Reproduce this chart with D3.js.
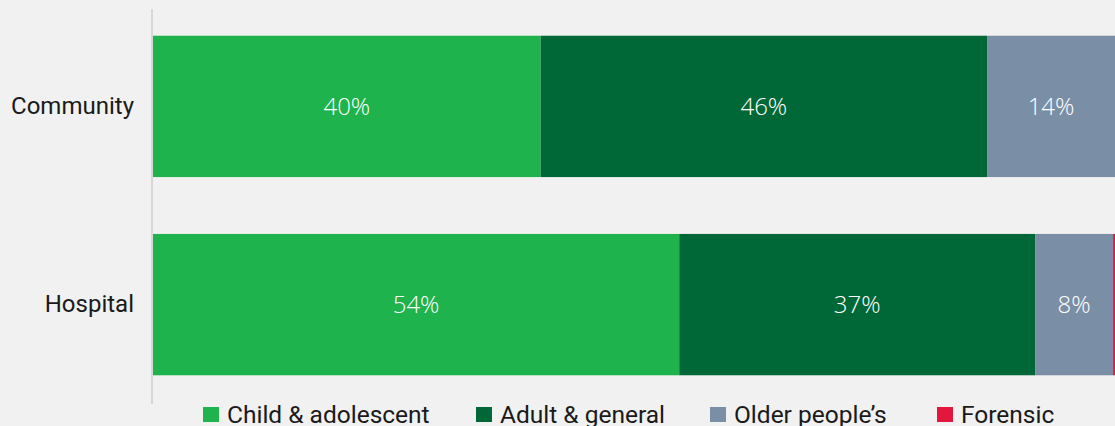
<!DOCTYPE html>
<html>
<head>
<meta charset="utf-8">
<script src="https://cdn.jsdelivr.net/npm/d3@7"></script>
<style>
  html, body { margin: 0; padding: 0; background: #f0f1f0; }
  svg { display: block; font-family: Roboto, "Noto Sans", sans-serif; }
</style>
</head>
<body>
<svg id="chart" width="1115" height="426"></svg>
<script>
var categories = ['Community', 'Hospital'];
var seriesNames = ['Child & adolescent', 'Adult & general', "Older people\u2019s", 'Forensic'];
var seriesColors = ['#1eb34c', '#006837', '#7a8ea6', '#e3173e'];
// share of each service type, per category (in %)
var childVals = [40.3, 54.7];
var adultVals = [46.4, 37.0];
var olderVals = [13.3, 8.1];
var forensicVals = [0, 0.2];
// labels as printed on the bars
var childLabels = ['40%', '54%'];
var adultLabels = ['46%', '37%'];
var olderLabels = ['14%', '8%'];
var forensicLabels = ['', ''];

var svg = d3.select('#chart');
var W = 1115, H = 426;
var margin = {left: 153, right: 0};

var x = d3.scaleLinear().domain([0, 100]).range([margin.left, W - margin.right]);
var y = d3.scaleBand().domain(categories).range([6, 405]).paddingInner(0.287).paddingOuter(0.15);

var vals = [childVals, adultVals, olderVals, forensicVals];
var labs = [childLabels, adultLabels, olderLabels, forensicLabels];
var rows = categories.map(function(c, i) {
  var r = {cat: c};
  seriesNames.forEach(function(s, j) { r[s] = vals[j][i]; });
  return r;
});
var stacked = d3.stack().keys(seriesNames)(rows);

var g = svg.append('g');
stacked.forEach(function(layer, j) {
  var lg = g.append('g');
  lg.selectAll('rect').data(layer).enter().append('rect')
    .attr('x', function(d) { return x(d[0]); })
    .attr('y', function(d) { return y(d.data.cat); })
    .attr('width', function(d) { return x(d[1]) - x(d[0]); })
    .attr('height', y.bandwidth())
    .attr('fill', seriesColors[j]);
  lg.selectAll('text').data(layer).enter().append('text')
    .attr('x', function(d) { return (x(d[0]) + Math.min(x(d[1]), W)) / 2; })
    .attr('y', function(d) { return y(d.data.cat) + y.bandwidth() / 2; })
    .attr('dy', '0.35em')
    .attr('text-anchor', 'middle')
    .attr('fill', '#fff')
    .style('font-family', '"Open Sans", sans-serif')
    .style('font-size', '24px')
    .style('font-weight', 300)
    .text(function(d, i) { return labs[j][i]; });
});

// category axis
var yAxis = svg.append('g').attr('transform', 'translate(' + (margin.left - 1) + ',0)')
  .call(d3.axisLeft(y).tickSize(0).tickPadding(18));
yAxis.select('.domain').attr('stroke', '#d6d7d6').attr('stroke-width', 2).attr('d', 'M0,9V404');
yAxis.selectAll('text').style('font-size', '24px').attr('fill', '#1a1a1a').style('font-family', 'Roboto, sans-serif');

// legend
var legendX = [203, 476, 710, 937];
var leg = svg.append('g').selectAll('g').data(seriesNames).enter().append('g')
  .attr('transform', function(d, i) { return 'translate(' + legendX[i] + ',407)'; });
leg.append('rect').attr('width', 16).attr('height', 15).attr('fill', function(d, i) { return seriesColors[i]; });
leg.append('text').attr('x', 24).attr('y', 7).attr('dy', '0.35em')
  .style('font-size', '24.5px').attr('fill', '#1a1a1a').text(function(d) { return d; });
</script>
</body>
</html>
